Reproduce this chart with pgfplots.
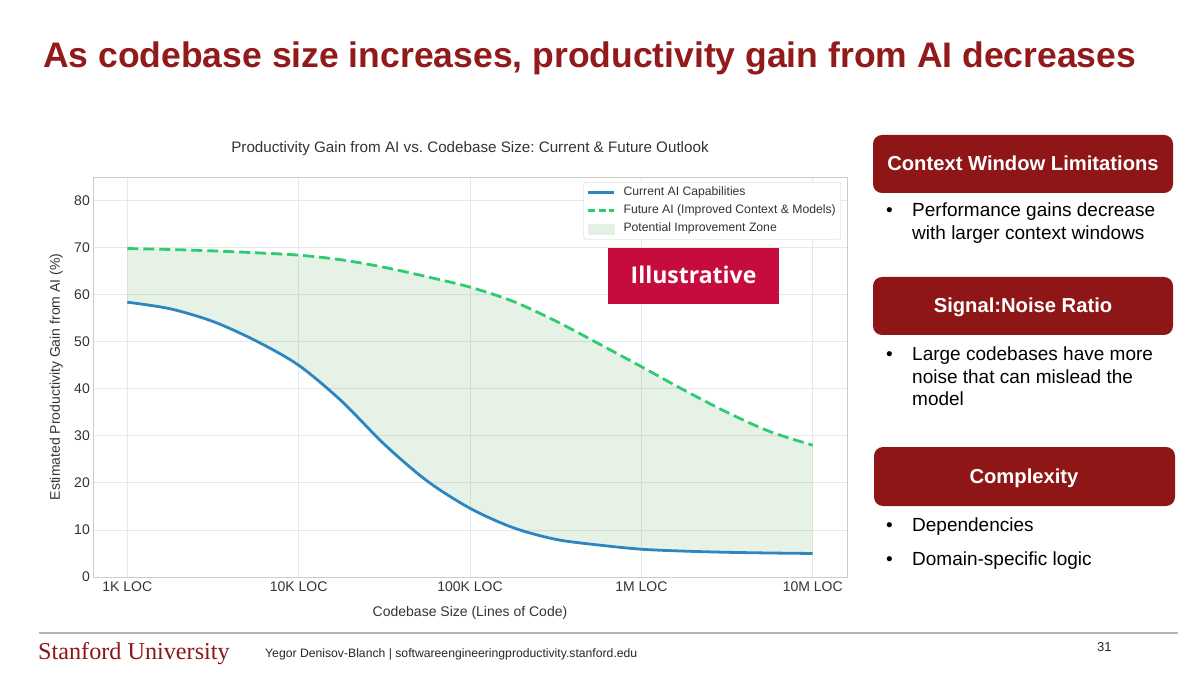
\documentclass[border=0pt]{standalone}
\usepackage{pgfplots}
\pgfplotsset{compat=1.18}
\usepgfplotslibrary{fillbetween}
\usepackage{fontspec}
\setmainfont{Liberation Sans}
\newfontfamily\serifU{Liberation Serif}
\newfontfamily\opensans{Open Sans}
\frenchspacing
\definecolor{titlered}{HTML}{921A1A}
\definecolor{boxred}{HTML}{8E1616}
\definecolor{illus}{HTML}{C60C3C}
\definecolor{curblue}{HTML}{2E86C1}
\definecolor{futgreen}{HTML}{2ECC71}
\definecolor{zone}{HTML}{008000}
\definecolor{zonelight}{HTML}{E3F0E3}
\definecolor{txt}{HTML}{333333}
\definecolor{gridc}{HTML}{E8E8E8}
\definecolor{framec}{HTML}{CCCCCC}
\definecolor{footline}{HTML}{B4B4B4}
\definecolor{footred}{HTML}{8C1515}
\pgfplotsset{
  lineleg/.style={legend image code/.code={\draw[##1] (0pt,0pt) -- (26pt,0pt);}},
  arealeg/.style={legend image code/.code={\fill[zonelight, sharp corners] (0pt,-5pt) rectangle (26pt,5pt);}},
}
\pgfplotstableread{
x y
3.00 58.4
3.25 57.0
3.50 54.3
3.75 50.2
4.00 45.0
4.25 37.4
4.50 28.2
4.75 20.4
5.00 14.6
5.25 10.5
5.50 8.0
5.75 6.8
6.00 5.9
6.25 5.5
6.50 5.25
6.75 5.1
7.00 5.0
}\current
\pgfplotstableread{
x y
3.00 69.8
3.25 69.6
3.50 69.3
3.75 68.9
4.00 68.4
4.25 67.4
4.50 65.8
4.75 63.8
5.00 61.6
5.25 58.6
5.50 54.4
5.75 49.6
6.00 44.7
6.25 39.7
6.50 35.0
6.75 30.9
7.00 28.0
}\future

\begin{document}
\begin{tikzpicture}[x=1pt,y=-1pt, t/.style={inner sep=0pt}]
\path (0,0) rectangle (1200,676);
\begin{axis}[
  at={(93pt,-577pt)}, anchor=south west,
  scale only axis, width=754pt, height=400pt,
  xmin=2.8, xmax=7.2, ymin=0, ymax=85,
  xtick={3,4,5,6,7},
  xticklabels={1K LOC,10K LOC,100K LOC,1M LOC,10M LOC},
  ytick={0,10,...,80},
  /pgf/number format/assume math mode=true,
  major tick length=0pt,
  grid=major,
  grid style={gridc, line width=0.8pt},
  axis line style={framec, line width=1pt},
  ticklabel style={font=\fontsize{14}{16}\selectfont, text=txt},
  xticklabel style={anchor=base, yshift=-14.7pt, inner sep=0pt},
  yticklabel style={anchor=east, xshift=-3pt, inner sep=0pt},
  xlabel={Codebase Size (Lines of Code)},
  ylabel={Estimated Productivity Gain from AI (\%)},
  label style={font=\fontsize{14}{16}\selectfont, text=txt},
  xlabel style={at={(axis description cs:0.5,-0.0975)}, anchor=base, inner sep=0pt},
  ylabel style={at={(axis description cs:-0.0438,0.5)}, anchor=base, inner sep=0pt},
  title={Productivity Gain from AI vs. Codebase Size: Current \& Future Outlook},
  title style={at={(axis description cs:0.5,1.0475)}, anchor=base, font=\fontsize{15.2}{17}\selectfont, text=txt, inner sep=0pt},
  legend style={at={(axis description cs:1,1)}, anchor=north east, xshift=-6pt, yshift=-5pt,
    draw=framec, fill=white, rounded corners=2pt,
    font=\fontsize{12.2}{14}\selectfont, text=txt,
    inner xsep=3pt, inner ysep=2.5pt, row sep=2pt, column sep=6pt,
    nodes={inner sep=2pt, text height=9pt, text depth=3pt}},
  legend cell align=left,
]
\addplot[name path=cur, draw=none, smooth, forget plot] table[x=x,y=y] {\current};
\addplot[name path=fut, draw=none, smooth, forget plot] table[x=x,y=y] {\future};
\addplot[fill=zone, fill opacity=0.1, draw=none, forget plot] fill between[of=cur and fut];
\addplot[curblue, line width=2.8pt, smooth, forget plot] table[x=x,y=y] {\current};
\addplot[futgreen, line width=2.8pt, dash pattern=on 11pt off 5pt, smooth, forget plot] table[x=x,y=y] {\future};
\addlegendimage{curblue, line width=2.8pt, lineleg}
\addlegendentry{Current AI Capabilities}
\addlegendimage{futgreen, line width=2.8pt, dash pattern=on 7pt off 3.5pt, lineleg}
\addlegendentry{Future AI (Improved Context \& Models)}
\addlegendimage{arealeg}
\addlegendentry{Potential Improvement Zone}
\end{axis}
% title
\node[t, anchor=base west, text=titlered, font=\bfseries\fontsize{35.5}{40}\selectfont] at (43,68) {As codebase size increases, productivity gain from AI decreases};
% illustrative
\fill[illus] (608,248) rectangle (779,304);
\node[t, anchor=base, text=white, font=\opensans\bfseries\fontsize{23}{26}\selectfont] at (693.5,283.5) {Illustrative};
% right boxes
\fill[boxred, rounded corners=9pt] (873,135) rectangle (1173,193);
\node[t, anchor=base, text=white, font=\bfseries\fontsize{20.2}{24}\selectfont] at (1023,171) {Context Window Limitations};
\fill[boxred, rounded corners=9pt] (873,277) rectangle (1173,335);
\node[t, anchor=base, text=white, font=\bfseries\fontsize{20.2}{24}\selectfont] at (1023,312.7) {Signal:Noise Ratio};
\fill[boxred, rounded corners=9pt] (874,447) rectangle (1175,506);
\node[t, anchor=base, text=white, font=\bfseries\fontsize{20.2}{24}\selectfont] at (1024,483.3) {Complexity};
% bullets
\begin{scope}[every node/.style={t, anchor=base west, font=\fontsize{19}{22}\selectfont, text=black}]
\node at (886,216.7) {\textbullet};
\node at (912,216.7) {Performance gains decrease};
\node at (912,239.2) {with larger context windows};
\node at (886,361) {\textbullet};
\node at (912,361) {Large codebases have more};
\node at (912,383.5) {noise that can mislead the};
\node at (912,406) {model};
\node at (886,531.7) {\textbullet};
\node at (912,531.7) {Dependencies};
\node at (886,565) {\textbullet};
\node at (912,565) {Domain-specific logic};
\end{scope}
% footer
\draw[footline, line width=2pt] (39,633) -- (1178,633);
\node[t, anchor=base west, text=footred, font=\serifU\fontsize{24.2}{27}\selectfont] at (38,659) {Stanford University};
\node[t, anchor=base west, text=black!85, font=\fontsize{12.2}{14}\selectfont] at (265,657) {Yegor Denisov-Blanch | softwareengineeringproductivity.stanford.edu};
\node[t, anchor=base west, text=black!85, font=\fontsize{13}{14}\selectfont] at (1097,651) {31};
\end{tikzpicture}
\end{document}
